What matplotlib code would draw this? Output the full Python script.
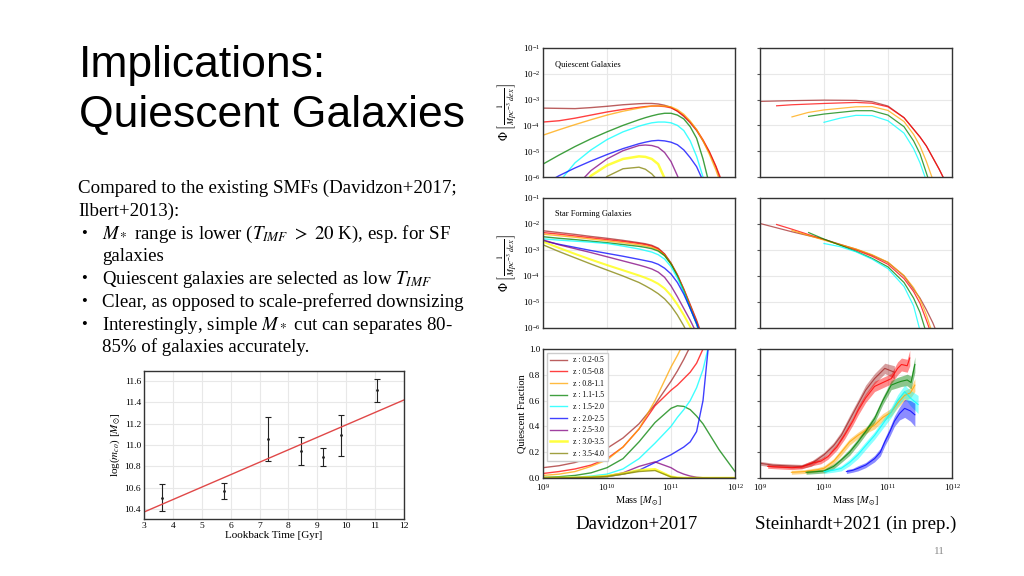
import numpy as np
import matplotlib
matplotlib.use("Agg")
import matplotlib.pyplot as plt

plt.rcParams.update({
    "font.family": ["Liberation Serif", "DejaVu Serif"],
    "mathtext.fontset": "stix",
    "axes.edgecolor": "#333333",
    "axes.linewidth": 1.0,
})

W, H = 1024, 576

# ---- data: Davidzon+2017 stellar mass functions (log10 Phi) ----
logm_grid = [9.0, 9.25, 9.5, 9.75, 10.0, 10.25, 10.5, 10.6, 10.7, 10.8,
             10.9, 11.0, 11.1, 11.2, 11.3, 11.4, 11.5, 11.6, 11.7, 11.8]
z_labels = ["z : 0.2-0.5", "z : 0.5-0.8", "z : 0.8-1.1", "z : 1.1-1.5", "z : 1.5-2.0",
            "z : 2.0-2.5", "z : 2.5-3.0", "z : 3.0-3.5", "z : 3.5-4.0"]
z_colors = ["brown", "red", "orange", "green", "cyan", "blue", "purple", "yellow", "olive"]

q_smf = [
    [-3.33, -3.34, -3.35, -3.31, -3.26, -3.2, -3.16, -3.15, -3.15, -3.17, -3.22, -3.3, -3.45, -3.65, -3.9, -4.2, -4.6, -5.05, -5.6, -6.3],
    [-3.87, -3.82, -3.72, -3.6, -3.48, -3.38, -3.3, -3.27, -3.25, -3.25, -3.27, -3.32, -3.44, -3.62, -3.87, -4.17, -4.56, -5.02, -5.57, -6.2],
    [-4.38, -4.17, -3.97, -3.78, -3.6, -3.45, -3.33, -3.29, -3.25, -3.24, -3.25, -3.28, -3.39, -3.57, -3.83, -4.16, -4.6, -5.12, -5.72, -6.4],
    [-5.5, -5.15, -4.82, -4.52, -4.25, -4.0, -3.78, -3.7, -3.63, -3.57, -3.53, -3.53, -3.6, -3.75, -4.05, -4.5, -5.3, -6.3, -7.5, -9],
    [-7.0, -6.2, -5.45, -4.95, -4.55, -4.25, -4.03, -3.96, -3.9, -3.87, -3.87, -3.9, -4.0, -4.2, -4.6, -5.2, -6.0, -7.2, -9, -9],
    [-6.3, -5.95, -5.65, -5.38, -5.13, -4.9, -4.71, -4.65, -4.6, -4.58, -4.6, -4.65, -4.75, -4.95, -5.25, -5.6, -6.15, -7, -9, -9],
    [-9, -7.5, -6.4, -5.75, -5.3, -4.98, -4.78, -4.76, -4.78, -4.85, -5.05, -5.4, -5.95, -6.6, -8, -9, -9, -9, -9, -9],
    [-9, -8, -6.8, -5.95, -5.55, -5.3, -5.2, -5.22, -5.3, -5.5, -6.05, -6.6, -7.5, -9, -9, -9, -9, -9, -9, -9],
    [-9, -9, -8, -6.6, -5.98, -5.68, -5.62, -5.7, -5.88, -6.15, -6.6, -7.5, -9, -9, -9, -9, -9, -9, -9, -9],
]
sf_smf = [
    [-2.26, -2.33, -2.4, -2.48, -2.55, -2.63, -2.72, -2.76, -2.82, -2.93, -3.15, -3.5, -3.95, -4.5, -5.1, -5.7, -6.4, -7.2, -8, -9],
    [-2.33, -2.39, -2.46, -2.53, -2.6, -2.67, -2.75, -2.79, -2.85, -2.96, -3.17, -3.52, -3.97, -4.52, -5.13, -5.75, -6.45, -7.3, -8, -9],
    [-2.39, -2.45, -2.51, -2.58, -2.65, -2.72, -2.8, -2.84, -2.9, -3.0, -3.2, -3.53, -3.98, -4.55, -5.18, -5.8, -6.5, -7.3, -8, -9],
    [-2.49, -2.55, -2.6, -2.66, -2.72, -2.79, -2.86, -2.9, -2.95, -3.04, -3.22, -3.54, -4.0, -4.58, -5.22, -5.85, -6.55, -7.4, -8, -9],
    [-2.57, -2.62, -2.66, -2.7, -2.75, -2.85, -2.96, -3.02, -3.08, -3.18, -3.35, -3.64, -4.08, -4.62, -5.25, -5.85, -6.6, -7.4, -8, -9],
    [-2.65, -2.78, -2.9, -3.02, -3.13, -3.24, -3.36, -3.41, -3.46, -3.55, -3.7, -3.92, -4.25, -4.7, -5.25, -5.82, -6.5, -7.4, -8, -9],
    [-2.61, -2.8, -2.95, -3.1, -3.26, -3.42, -3.58, -3.65, -3.73, -3.85, -4.05, -4.38, -4.8, -5.25, -5.7, -6.2, -6.8, -7.5, -8, -9],
    [-2.68, -2.92, -3.15, -3.37, -3.58, -3.78, -3.98, -4.07, -4.17, -4.3, -4.48, -4.75, -5.1, -5.5, -5.95, -6.5, -7.2, -8, -9, -9],
    [-2.8, -3.06, -3.3, -3.54, -3.77, -4.0, -4.25, -4.38, -4.52, -4.68, -4.88, -5.15, -5.5, -5.92, -6.4, -7.0, -8, -9, -9, -9],
]

# ---- data: Steinhardt+2021 stellar mass functions ----
st_colors = ["brown", "red", "orange", "green", "cyan"]
st_q_m = [
    [9.0, 9.5, 10.0, 10.5, 10.75, 11.0, 11.25, 11.5, 11.6, 11.7, 11.8, 11.9],
    [9.26, 9.5, 10.0, 10.5, 10.75, 11.0, 11.25, 11.5, 11.6, 11.7, 11.8, 11.9],
    [9.5, 9.75, 10.0, 10.5, 10.75, 11.0, 11.25, 11.4, 11.5, 11.6, 11.7],
    [9.76, 10.0, 10.5, 10.75, 11.0, 11.25, 11.4, 11.5, 11.6, 11.7],
    [10.0, 10.25, 10.5, 10.75, 11.0, 11.25, 11.4, 11.5, 11.6],
]
st_q_phi = [
    [-3.07, -3.04, -3.02, -3.03, -3.08, -3.25, -3.7, -4.45, -4.8, -5.25, -5.7, -6.2],
    [-3.24, -3.2, -3.15, -3.11, -3.14, -3.28, -3.7, -4.45, -4.8, -5.25, -5.7, -6.2],
    [-3.67, -3.5, -3.4, -3.28, -3.27, -3.42, -3.85, -4.35, -4.8, -5.4, -6.1],
    [-3.65, -3.56, -3.43, -3.43, -3.6, -4.05, -4.6, -5.1, -5.85, -6.6],
    [-3.88, -3.72, -3.61, -3.62, -3.82, -4.3, -4.9, -5.45, -6.15],
]
st_sf_m = [
    [9.0, 9.5, 10.0, 10.5, 10.75, 11.0, 11.25, 11.5, 11.6, 11.7, 11.8],
    [9.26, 9.5, 10.0, 10.5, 10.75, 11.0, 11.25, 11.4, 11.5, 11.6, 11.7],
    [9.5, 10.0, 10.5, 10.75, 11.0, 11.25, 11.4, 11.5, 11.6, 11.7],
    [9.76, 10.0, 10.5, 10.75, 11.0, 11.25, 11.4, 11.5, 11.6],
    [10.0, 10.25, 10.5, 10.75, 11.0, 11.25, 11.4, 11.5],
]
st_sf_phi = [
    [-1.98, -2.3, -2.59, -2.97, -3.2, -3.48, -4.0, -4.85, -5.3, -5.8, -6.4],
    [-2.02, -2.2, -2.6, -3.0, -3.24, -3.55, -4.1, -4.6, -5.05, -5.7, -6.4],
    [-2.25, -2.62, -2.96, -3.18, -3.47, -3.98, -4.45, -4.9, -5.5, -6.25],
    [-2.33, -2.58, -3.05, -3.32, -3.65, -4.25, -4.85, -5.4, -6.2],
    [-2.75, -2.87, -3.07, -3.35, -3.72, -4.4, -5.15, -6.1],
]

# ---- data: quiescent fractions ----
frac_m = [9.0, 9.25, 9.5, 9.75, 10.0, 10.25, 10.5, 10.75, 11.0, 11.1, 11.2, 11.3, 11.4, 11.5, 11.6, 11.75, 12.0]
frac_dav = [
    [0.08, 0.095, 0.12, 0.16, 0.23, 0.31, 0.42, 0.57, 0.75, 0.83, 0.92, 1.02, 1.2, 1.4, 1.6, 2.0, 2.5],
    [0.035, 0.05, 0.07, 0.1, 0.15, 0.24, 0.38, 0.56, 0.68, 0.72, 0.77, 0.82, 0.89, 1.0, 1.15, 1.4, 2.0],
    [0.02, 0.03, 0.05, 0.09, 0.14, 0.24, 0.38, 0.6, 0.86, 0.95, 1.05, 1.2, 1.4, 1.6, 2.0, 2.5, 3.0],
    [0.005, 0.01, 0.02, 0.04, 0.08, 0.15, 0.28, 0.43, 0.54, 0.56, 0.555, 0.53, 0.48, 0.42, 0.34, 0.22, 0.05],
    [0.0, 0.002, 0.005, 0.015, 0.03, 0.07, 0.15, 0.27, 0.4, 0.47, 0.53, 0.6, 0.7, 0.84, 1.05, 1.5, 2.0],
    [0.0, 0.0, 0.003, 0.005, 0.01, 0.03, 0.06, 0.12, 0.18, 0.21, 0.24, 0.28, 0.36, 0.6, 1.1, 2.0, 3.0],
    [0.0, 0.001, 0.003, 0.007, 0.015, 0.04, 0.09, 0.125, 0.08, 0.05, 0.03, 0.015, 0.006, 0.002, 0.0, 0.0, 0.0],
    [0.0, 0.001, 0.003, 0.007, 0.015, 0.035, 0.06, 0.068, 0.01, 0.003, 0.0, 0.0, 0.0, 0.0, 0.0, 0.0, 0.0],
    [0.0, 0.0, 0.002, 0.005, 0.012, 0.03, 0.05, 0.058, 0.008, 0.002, 0.0, 0.0, 0.0, 0.0, 0.0, 0.0, 0.0],
]
band_colors = ["brown", "red", "orange", "green", "cyan", "blue"]
band_m = [
    [9.0, 9.2, 9.4, 9.65, 9.8, 10.0, 10.15, 10.27, 10.4, 10.53, 10.65, 10.79, 10.95, 11.1],
    [9.12, 9.3, 9.5, 9.65, 9.8, 9.95, 10.06, 10.2, 10.32, 10.45, 10.53, 10.65, 10.79, 10.92, 11.05, 11.15, 11.21, 11.3, 11.34],
    [9.49, 9.7, 9.9, 10.0, 10.15, 10.27, 10.4, 10.53, 10.65, 10.79, 10.92, 11.05, 11.15, 11.26, 11.35, 11.42],
    [9.72, 9.9, 10.0, 10.15, 10.27, 10.4, 10.53, 10.65, 10.79, 10.92, 11.05, 11.15, 11.21, 11.3, 11.36, 11.42],
    [10.0, 10.15, 10.27, 10.4, 10.53, 10.65, 10.79, 10.92, 11.05, 11.15, 11.26, 11.35, 11.47],
    [10.35, 10.45, 10.53, 10.65, 10.79, 10.88, 10.95, 11.03, 11.1, 11.18, 11.26, 11.35, 11.42],
]
band_f = [
    [0.114, 0.1, 0.095, 0.09, 0.11, 0.18, 0.25, 0.33, 0.45, 0.57, 0.68, 0.77, 0.85, 0.82],
    [0.09, 0.085, 0.08, 0.085, 0.114, 0.13, 0.165, 0.24, 0.33, 0.44, 0.52, 0.62, 0.71, 0.74, 0.77, 0.85, 0.88, 0.87, 0.93],
    [0.044, 0.05, 0.065, 0.075, 0.13, 0.2, 0.28, 0.33, 0.37, 0.41, 0.47, 0.51, 0.58, 0.64, 0.66, 0.72],
    [0.044, 0.05, 0.054, 0.09, 0.14, 0.2, 0.28, 0.36, 0.46, 0.6, 0.72, 0.74, 0.75, 0.76, 0.74, 0.88],
    [0.05, 0.06, 0.075, 0.12, 0.18, 0.25, 0.33, 0.42, 0.51, 0.6, 0.67, 0.62, 0.57],
    [0.05, 0.06, 0.075, 0.1, 0.15, 0.2, 0.28, 0.36, 0.44, 0.5, 0.54, 0.52, 0.49],
]
band_err = [
    [0.015, 0.015, 0.015, 0.015, 0.02, 0.02, 0.025, 0.03, 0.035, 0.035, 0.04, 0.04, 0.04, 0.05],
    [0.015, 0.015, 0.015, 0.015, 0.02, 0.02, 0.02, 0.025, 0.03, 0.03, 0.035, 0.035, 0.04, 0.04, 0.04, 0.05, 0.05, 0.05, 0.06],
    [0.015, 0.015, 0.015, 0.02, 0.02, 0.025, 0.025, 0.025, 0.025, 0.03, 0.03, 0.03, 0.035, 0.04, 0.04, 0.05],
    [0.015, 0.015, 0.015, 0.02, 0.02, 0.025, 0.025, 0.025, 0.03, 0.03, 0.035, 0.04, 0.04, 0.045, 0.05, 0.06],
    [0.015, 0.015, 0.02, 0.025, 0.03, 0.03, 0.03, 0.035, 0.04, 0.045, 0.05, 0.06, 0.07],
    [0.015, 0.015, 0.02, 0.02, 0.025, 0.03, 0.03, 0.035, 0.04, 0.05, 0.07, 0.08, 0.09],
]

# ---- data: characteristic mass vs lookback time ----
lookback = [3.63, 5.78, 7.28, 8.43, 9.2, 9.83, 11.07]
logm_co = [10.51, 10.57, 11.06, 10.94, 10.89, 11.09, 11.51]
logm_co_err = [0.13, 0.075, 0.205, 0.13, 0.085, 0.19, 0.11]
fit_x = [3.0, 12.0]
fit_y = [10.375, 11.42]

fig = plt.figure(figsize=(W / 100, H / 100), dpi=100)


def px_axes(x0, y0, x1, y1):
    return fig.add_axes([x0 / W, 1 - y1 / H, (x1 - x0) / W, (y1 - y0) / H])


def style(ax, size=6.5):
    ax.grid(True, color="#e8e8e8", lw=0.8)
    ax.set_axisbelow(True)
    ax.tick_params(labelsize=size, length=0, pad=2)
    for s in ax.spines.values():
        s.set_color("#333333")


mass_grid = 10 ** np.array(logm_grid)

# SMF panels
smf_axes = {}
for row, (y0, y1) in enumerate([(48, 177), (198, 328)]):
    for col, (x0, x1) in enumerate([(543, 735), (760, 952)]):
        ax = px_axes(x0, y0, x1, y1)
        ax.set_xscale("log")
        ax.set_yscale("log")
        ax.set_xlim(1e9, 1e12)
        ax.set_ylim(1e-6, 1e-1)
        style(ax)
        ax.set_xticks([1e9, 1e10, 1e11, 1e12])
        ax.set_xticklabels([])
        ax.minorticks_off()
        if col == 1:
            ax.set_yticklabels([])
            ax.tick_params(axis="y", length=2, color="#555555")
        else:
            ax.set_ylabel(r"$\Phi\ \left[\frac{1}{Mpc^{-3}\ dex}\right]$", fontsize=8.5, labelpad=2)
        smf_axes[(row, col)] = ax

ax = smf_axes[(0, 0)]
for vals, c in zip(q_smf, z_colors):
    ax.plot(mass_grid, 10 ** np.array(vals), color=c, lw=1.8 if c == "yellow" else 1.0, alpha=0.75)
ax.text(0.06, 0.86, "Quiescent Galaxies", transform=ax.transAxes, fontsize=6)

ax = smf_axes[(1, 0)]
for vals, c in zip(sf_smf, z_colors):
    ax.plot(mass_grid, 10 ** np.array(vals), color=c, lw=1.5 if c == "yellow" else 1.0, alpha=0.75)
ax.text(0.06, 0.86, "Star Forming Galaxies", transform=ax.transAxes, fontsize=6)

ax = smf_axes[(0, 1)]
for m, v, c in zip(st_q_m, st_q_phi, st_colors):
    ax.plot(10 ** np.array(m), 10 ** np.array(v), color=c, lw=0.9, alpha=0.75)

ax = smf_axes[(1, 1)]
for m, v, c in zip(st_sf_m, st_sf_phi, st_colors):
    ax.plot(10 ** np.array(m), 10 ** np.array(v), color=c, lw=0.9, alpha=0.75)

# quiescent fraction panels
for col, (x0, x1) in enumerate([(543, 735), (760, 952)]):
    ax = px_axes(x0, 349, x1, 478)
    ax.set_xscale("log")
    ax.set_xlim(1e9, 1e12)
    ax.set_ylim(0, 1)
    style(ax)
    ax.tick_params(axis="x", pad=3)
    ax.set_xticks([1e9, 1e10, 1e11, 1e12])
    ax.minorticks_off()
    ax.set_yticks([0, 0.2, 0.4, 0.6, 0.8, 1.0])
    ax.set_xlabel(r"Mass [$M_{\odot}$]", fontsize=7.5, labelpad=1)
    if col == 0:
        ax.set_ylabel("Quiescent Fraction", fontsize=7.5, labelpad=2)
        for vals, c, lab in zip(frac_dav, z_colors, z_labels):
            ax.plot(10 ** np.array(frac_m), vals, color=c, lw=1.8 if c == "yellow" else 1.0,
                    alpha=0.75, label=lab)
        ax.legend(loc="upper left", fontsize=5.5, frameon=True, framealpha=1, edgecolor="#cccccc",
                  fancybox=False, borderpad=0.45, labelspacing=0.48, handlelength=2.2)
    else:
        ax.set_yticklabels([])
        ax.tick_params(axis="y", length=2, color="#555555")
        for m, f, e, c in zip(band_m, band_f, band_err, band_colors):
            m = 10 ** np.array(m)
            f = np.array(f)
            e = np.array(e)
            ax.fill_between(m, f - e, f + e, color=c, alpha=0.45, lw=0)
            ax.plot(m, f, color=c, lw=0.8, alpha=0.8)

# lookback time panel
ax = px_axes(144, 371, 404, 519)
style(ax, size=6.8)
ax.errorbar(lookback, logm_co, yerr=logm_co_err, fmt=".", color="#222222", ms=2,
            capsize=2, elinewidth=0.8, capthick=0.8)
ax.plot(fit_x, fit_y, color="#e04848", lw=1.0)
ax.set_xlim(3, 12)
ax.set_ylim(10.31, 11.69)
ax.set_xticks(range(3, 13))
ax.set_yticks([10.4, 10.6, 10.8, 11.0, 11.2, 11.4, 11.6])
ax.set_xlabel("Lookback Time [Gyr]", fontsize=8, labelpad=1)
ax.set_ylabel(r"log($m_{co}$) [$M_{\odot}$]", fontsize=8, labelpad=2)

# slide text
fig.text(79 / W, 1 - 77 / H, "Implications:", fontsize=32, family="Liberation Sans", va="baseline")
fig.text(79 / W, 1 - 127 / H, "Quiescent Galaxies", fontsize=32, family="Liberation Sans", va="baseline")

body = [
    (78, 193, "Compared to the existing SMFs (Davidzon+2017;", False),
    (78, 216, "Ilbert+2013):", False),
    (102, 238.5, r"$M_*$ range is lower ($T_{IMF}\ >\ 20$ K), esp. for SF", True),
    (102, 261, "galaxies", False),
    (102, 284, r"Quiescent galaxies are selected as low $T_{IMF}$", True),
    (102, 307, "Clear, as opposed to scale-preferred downsizing", True),
    (102, 330, r"Interestingly, simple $M_*$ cut can separates 80-", True),
    (102, 352.5, "85% of galaxies accurately.", False),
]
for x, y, s, bullet in body:
    fig.text(x / W, 1 - y / H, s, fontsize=13.6, va="baseline")
    if bullet:
        fig.text(81 / W, 1 - (y - 1) / H, "\u2022", fontsize=12, va="baseline")

fig.text(637 / W, 1 - 529 / H, "Davidzon+2017", fontsize=13.6, ha="center", va="baseline")
fig.text(856 / W, 1 - 529 / H, "Steinhardt+2021 (in prep.)", fontsize=13.6, ha="center", va="baseline")
fig.text(939 / W, 1 - 554 / H, "11", fontsize=8, ha="center", va="baseline", color="#888888")

fig.savefig("out.png", dpi=100)
